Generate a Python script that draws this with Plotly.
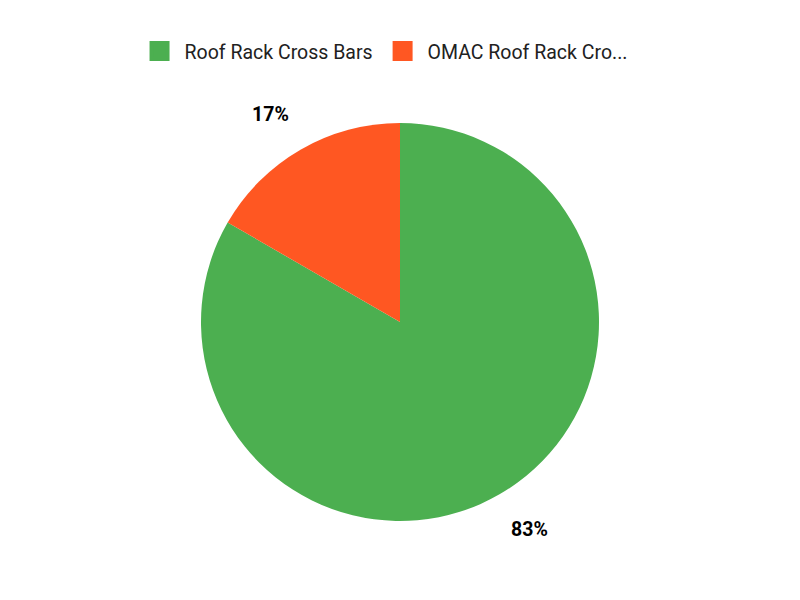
import math
import plotly.graph_objects as go

labels = ['Roof Rack Cross Bars', 'OMAC Roof Rack Cro...']
values = [5, 1]
colors = ['#4CAF50', '#FF5722']

fig = go.Figure()
fig.add_trace(go.Pie(
    labels=labels,
    values=values,
    marker=dict(colors=colors),
    sort=False,
    direction='clockwise',
    rotation=0,
    textinfo='none',
    hoverinfo='label+percent',
    showlegend=False,
))

# legend entries with bigger square swatches than the pie legend gives
for name, c in zip(labels, colors):
    fig.add_trace(go.Scatter(
        x=[None], y=[None], mode='markers', name=name,
        marker=dict(symbol='square', size=16, color=c, line=dict(width=4, color=c)),
        hoverinfo='skip',
    ))

# percent labels placed a bit outside the pie, at each slice midpoint
total = sum(values)
w, h = 800, 600
mt, mb, ml, mr = 115, 87, 0, 16
rx = (h - mt - mb) / 2 / (w - ml - mr)
ry = 0.5
kx, ky = 1.30, 1.205
annotations = []
acc = 0
for v in values:
    mid = (acc + v / 2) / total * 2 * math.pi
    acc += v
    annotations.append(dict(
        x=0.5 + rx * kx * math.sin(mid),
        y=0.5 + ry * ky * math.cos(mid),
        xref='paper', yref='paper',
        xanchor='center', yanchor='middle',
        text='<b>%d%%</b>' % round(100 * v / total),
        showarrow=False,
        font=dict(family='Roboto', size=19.5, color='#000000'),
    ))

fig.update_layout(
    width=w, height=h,
    margin=dict(l=ml, r=mr, t=mt, b=mb),
    paper_bgcolor='white',
    plot_bgcolor='white',
    font=dict(family='Roboto', size=18, color='#212121'),
    xaxis=dict(visible=False),
    yaxis=dict(visible=False),
    legend=dict(
        orientation='h',
        x=0.479, xanchor='center',
        y=1.18, yanchor='middle',
        itemwidth=40,
        font=dict(family='Roboto', size=19.5, color='#212121'),
    ),
    annotations=annotations,
)

fig.write_html('out.html')
